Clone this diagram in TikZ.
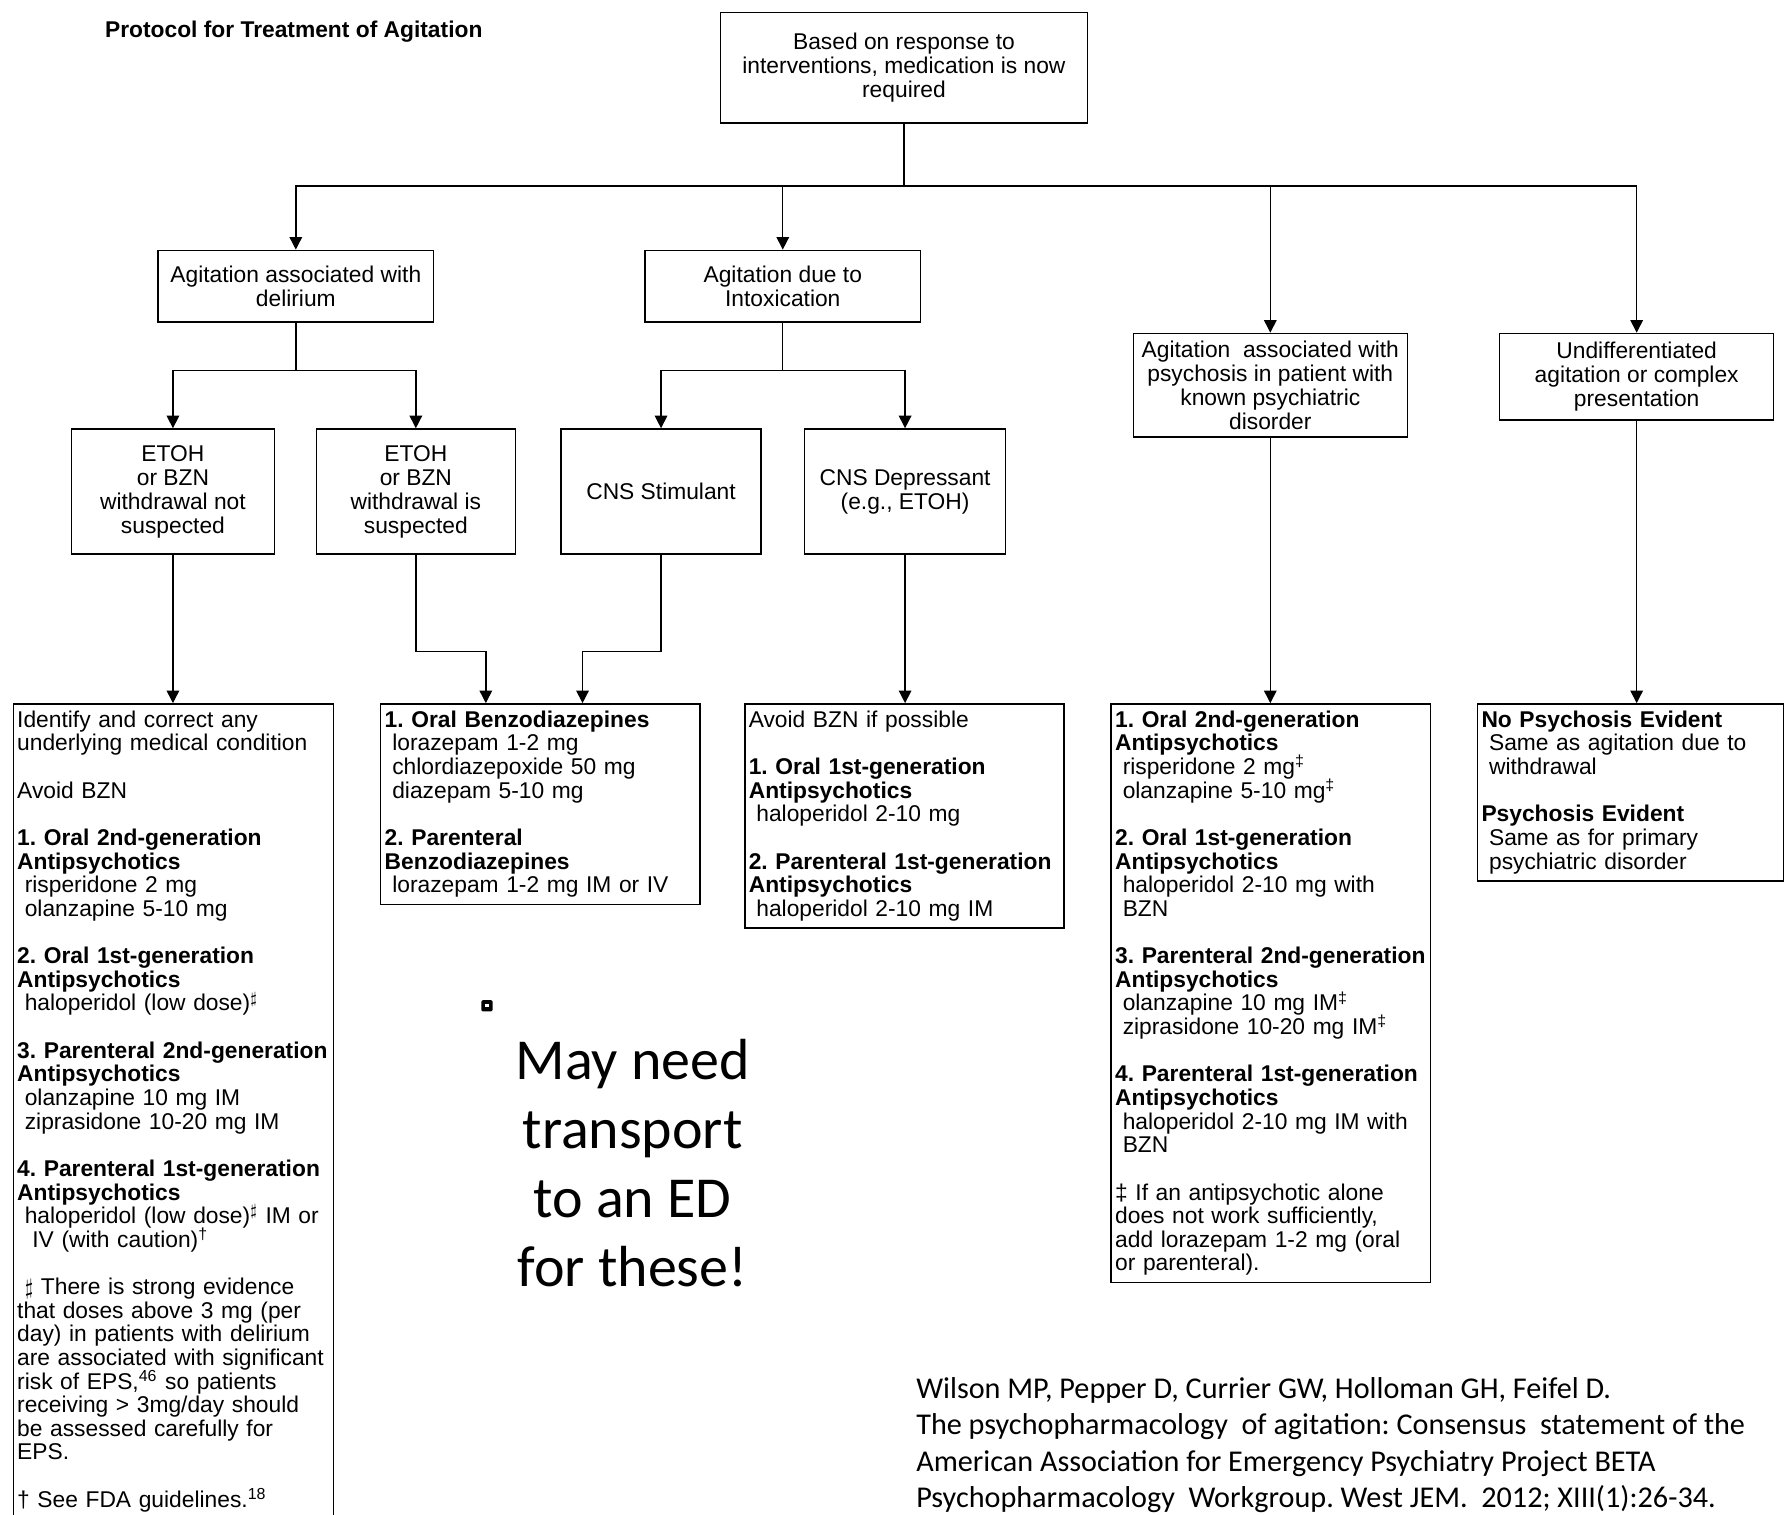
\documentclass[tikz,border=0pt]{standalone}
\usepackage{fontspec}
\setmainfont{Liberation Sans}
\newfontfamily\citefont{Carlito}
\usetikzlibrary{arrows.meta, positioning, calc}
\frenchspacing
\setlength{\lineskiplimit}{-6pt}
\setlength{\normallineskiplimit}{-6pt}

\begin{document}
\begin{tikzpicture}[x=0.2mm, y=-0.2mm,
  box/.style={draw, line width=0.7pt, align=center, inner sep=2pt,
              font=\fontsize{11.4}{12}\selectfont},
  txbox/.style={draw, line width=0.7pt, align=left, anchor=north west,
              inner xsep=2pt, inner ysep=3.5pt,
              font=\fontsize{11.4}{11.82}\selectfont},
  arr/.style={-{Triangle[length=2.2mm,width=2.2mm]}, line width=0.7pt},
  link/.style={line width=0.7pt}
]
\useasboundingbox (0,0) rectangle (1568,1331);
\clip (0,0) rectangle (1568,1331);

% title and first decision
\node[anchor=west, inner sep=0, font=\fontsize{11.4}{11.7}\selectfont\bfseries]
  (title) at (92,28) {Protocol for Treatment of Agitation};
\node[box, minimum width=64.6mm, minimum height=19.4mm] (start) at (794.5,59.5)
  {Based on response to\\interventions, medication is now\\required};

% presentations
\node[box, minimum width=48.4mm, minimum height=12.6mm] (delir) at (260,251.5)
  {Agitation associated with\\delirium};
\node[box, minimum width=48.4mm, minimum height=12.6mm] (intox) at (688,251.5)
  {Agitation due to\\Intoxication};
\node[box, minimum width=48.2mm, minimum height=18.2mm] (psych) at (1116.5,338.5)
  {Agitation\ \ associated with\\psychosis in patient with\\known psychiatric\\disorder};
\node[box, minimum width=48.2mm, minimum height=15.2mm] (undiff) at (1438.5,331)
  {Undifferentiated\\agitation or complex\\presentation};

% sub cases
\node[box, minimum width=35.6mm, minimum height=22mm] (etohno) at (152,432)
  {ETOH\\or BZN\\withdrawal not\\suspected};
\node[box, minimum width=35mm, minimum height=22mm] (etohyes) at (365.5,432)
  {ETOH\\or BZN\\withdrawal is\\suspected};
\node[box, minimum width=35.2mm, minimum height=22mm] (stim) at (581,432)
  {CNS Stimulant};
\node[box, minimum width=35.4mm, minimum height=22mm] (depr) at (795.5,432)
  {CNS Depressant\\(e.g., ETOH)};

% treatments
\node[txbox, text width=54.9mm] (deltx) at (11,618)
  {Identify and correct any\\
   underlying medical condition\\[\baselineskip]
   Avoid BZN\\[\baselineskip]
   \textbf{1. Oral 2nd-generation}\\
   \textbf{Antipsychotics}\\
   \ risperidone 2 mg\\
   \ olanzapine 5-10 mg\\[\baselineskip]
   \textbf{2. Oral 1st-generation}\\
   \textbf{Antipsychotics}\\
   \ haloperidol (low dose)\textsuperscript{$\sharp$}\\[\baselineskip]
   \mbox{\textbf{3. Parenteral 2nd-generation}}\\
   \textbf{Antipsychotics}\\
   \ olanzapine 10 mg IM\\
   \ ziprasidone 10-20 mg IM\\[\baselineskip]
   \mbox{\textbf{4. Parenteral 1st-generation}}\\
   \textbf{Antipsychotics}\\
   \ haloperidol (low dose)\textsuperscript{$\sharp$} IM or\\
   \ \ IV (with caution)\textsuperscript{†}\\[\baselineskip]
   \ $\sharp$ There is strong evidence\\
   that doses above 3 mg (per\\
   day) in patients with delirium\\
   are associated with significant\\
   risk of EPS,\textsuperscript{46} so patients\\
   receiving > 3mg/day should\\
   be assessed carefully for\\
   EPS.\\[\baselineskip]
   † See FDA guidelines.\textsuperscript{18}};
\node[txbox, text width=54.7mm] (benzo) at (334,618)
  {\textbf{1. Oral Benzodiazepines}\\
   \ lorazepam 1-2 mg\\
   \ chlordiazepoxide 50 mg\\
   \ diazepam 5-10 mg\\[\baselineskip]
   \textbf{2. Parenteral}\\
   \textbf{Benzodiazepines}\\
   \ lorazepam 1-2 mg IM or IV};
\node[txbox, text width=54.7mm] (avoid) at (654,618)
  {Avoid BZN if possible\\[\baselineskip]
   \textbf{1. Oral 1st-generation}\\
   \textbf{Antipsychotics}\\
   \ haloperidol 2-10 mg\\[\baselineskip]
   \mbox{\textbf{2. Parenteral 1st-generation}}\\
   \textbf{Antipsychotics}\\
   \ haloperidol 2-10 mg IM};
\node[txbox, text width=54.7mm] (psytx) at (976,618)
  {\textbf{1. Oral 2nd-generation}\\
   \textbf{Antipsychotics}\\
   \ risperidone 2 mg\textsuperscript{‡}\\
   \ olanzapine 5-10 mg\textsuperscript{‡}\\[\baselineskip]
   \textbf{2. Oral 1st-generation}\\
   \textbf{Antipsychotics}\\
   \ haloperidol 2-10 mg with\\
   \ BZN\\[\baselineskip]
   \mbox{\textbf{3. Parenteral 2nd-generation}}\\
   \textbf{Antipsychotics}\\
   \ olanzapine 10 mg IM\textsuperscript{‡}\\
   \ ziprasidone 10-20 mg IM\textsuperscript{‡}\\[\baselineskip]
   \mbox{\textbf{4. Parenteral 1st-generation}}\\
   \textbf{Antipsychotics}\\
   \ haloperidol 2-10 mg IM with\\
   \ BZN\\[\baselineskip]
   ‡ If an antipsychotic alone\\
   does not work sufficiently,\\
   add lorazepam 1-2 mg (oral\\
   or parenteral).};
\node[txbox, text width=52.5mm] (undtx) at (1298,618)
  {\textbf{No Psychosis Evident}\\
   \ Same as agitation due to\\
   \ withdrawal\\[\baselineskip]
   \textbf{Psychosis Evident}\\
   \ Same as for primary\\
   \ psychiatric disorder};

% connectors
\draw[link] (start.south) -- ++(0,55) coordinate (bus);
\draw[arr] (bus) -| (delir.north);
\draw[arr] (bus) -| (intox.north);
\draw[arr] (bus) -| (psych.north);
\draw[arr] (bus) -| (undiff.north);
\draw[link] (delir.south) -- ++(0,42) coordinate (delsplit);
\draw[arr] (delsplit) -| (etohno.north);
\draw[arr] (delsplit) -| (etohyes.north);
\draw[link] (intox.south) -- ++(0,42) coordinate (intsplit);
\draw[arr] (intsplit) -| (stim.north);
\draw[arr] (intsplit) -| (depr.north);
\draw[arr] (etohno.south) -- (etohno.south |- deltx.north);
\draw[arr] (etohyes.south) -- ++(0,85) -| ($(benzo.north west)+(93,0)$);
\draw[arr] (stim.south) -- ++(0,85) -| ($(benzo.north west)+(178,0)$);
\draw[arr] (depr.south) -- (depr.south |- avoid.north);
\draw[arr] (psych.south) -- (psych.south |- psytx.north);
\draw[arr] (undiff.south) -- (undiff.south |- undtx.north);

% note and reference
\node[fill=black, rounded corners=1pt, minimum size=2mm, inner sep=0] (dot) at (428,884) {};
\node[fill=white, minimum size=0.6mm, inner sep=0] at (dot.center) {};
\node[align=center, inner sep=0, font=\citefont\fontsize{29}{34.5}\selectfont]
  (transport) at (556,1022) {May need\\transport\\to an ED\\for these!};
\node[anchor=north west, align=left, inner sep=0,
      font=\citefont\fontsize{15.1}{18.3}\selectfont] (cite) at (805,1210)
  {Wilson MP, Pepper D, Currier GW, Holloman GH, Feifel D.\\
   The psychopharmacology\ \ of agitation: Consensus\ \ statement of the\\
   American Association for Emergency Psychiatry Project BETA\\
   Psychopharmacology\ \ Workgroup. West JEM.\ \ 2012; XIII(1):26-34.};
\end{tikzpicture}
\end{document}
